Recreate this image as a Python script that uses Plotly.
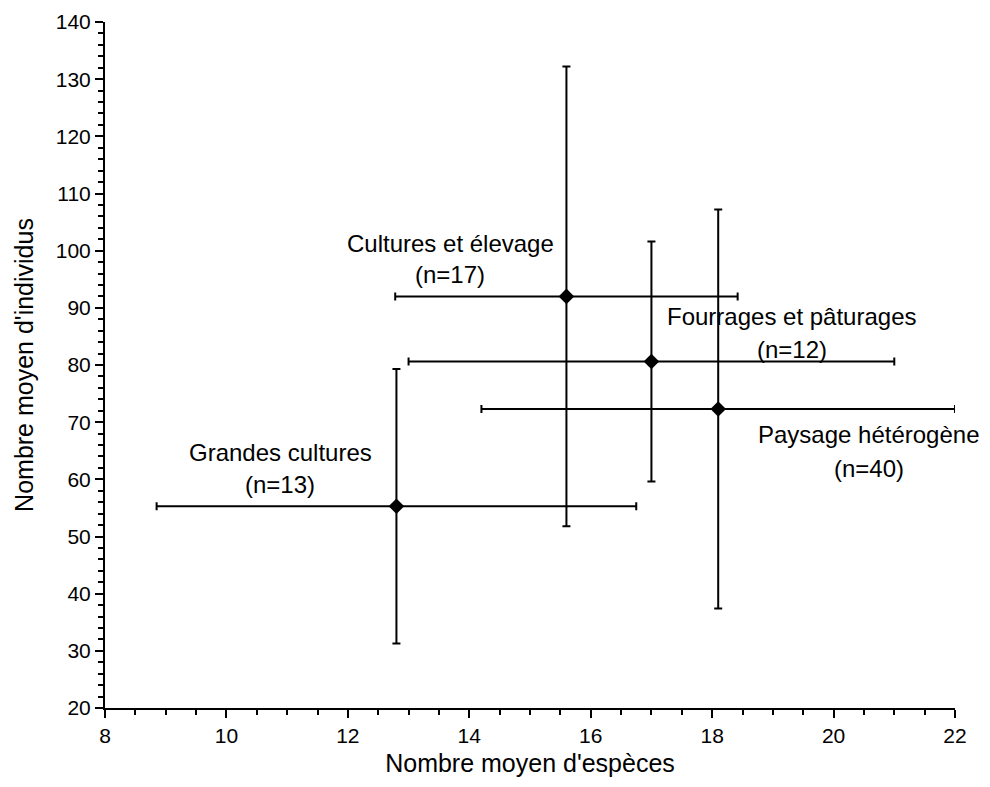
import plotly.graph_objects as go

# Data
groups = ["Grandes cultures", "Cultures et élevage", "Fourrages et pâturages", "Paysage hétérogène"]
n_labels = ["(n=13)", "(n=17)", "(n=12)", "(n=40)"]
mean_species = [12.8, 15.6, 17.0, 18.1]
mean_individuals = [55.3, 92.0, 80.6, 72.3]
err_species = [3.95, 2.82, 4.0, 3.9]
err_individuals = [24.0, 40.2, 21.0, 34.9]

# label anchor positions (data coordinates)
label_x = [10.89, 13.69, 19.31, 20.58]
label_y = [64.7, 101.3, 88.4, 67.8]
nlabel_y = [59.1, 95.8, 82.7, 61.9]

x_ticks = [8, 10, 12, 14, 16, 18, 20, 22]
y_ticks = [20, 30, 40, 50, 60, 70, 80, 90, 100, 110, 120, 130, 140]

FONT = "Liberation Sans, Arial, Helvetica, sans-serif"

fig = go.Figure()
fig.add_trace(go.Scatter(
    x=mean_species, y=mean_individuals, mode="markers",
    marker=dict(symbol="diamond", size=12, color="black"),
    error_x=dict(type="data", array=err_species, color="black", thickness=2, width=4),
    error_y=dict(type="data", array=err_individuals, color="black", thickness=2, width=4),
    showlegend=False, hoverinfo="skip",
))

for g, nl, lx, ly, nly in zip(groups, n_labels, label_x, label_y, nlabel_y):
    fig.add_annotation(x=lx, y=ly, text=g, showarrow=False,
                       font=dict(family=FONT, size=24, color="black"))
    fig.add_annotation(x=lx, y=nly, text=nl, showarrow=False,
                       font=dict(family=FONT, size=24, color="black"))

axis_common = dict(
    showline=True, linecolor="black", linewidth=2, mirror=False,
    showgrid=False, zeroline=False, automargin=False,
    ticks="outside", ticklen=8, tickwidth=2, tickcolor="black",
    tickfont=dict(family=FONT, size=21, color="black"),
    ticklabeloverflow="allow",
)

fig.update_xaxes(range=[8, 22], tickvals=x_ticks,
                 minor=dict(dtick=0.5, ticks="outside", ticklen=5, tickwidth=1.5, tickcolor="black"),
                 title=dict(text="Nombre moyen d'espèces", font=dict(family=FONT, size=25, color="black"), standoff=8),
                 **axis_common)
fig.update_yaxes(range=[20, 140], tickvals=y_ticks,
                 minor=dict(dtick=2, ticks="outside", ticklen=5, tickwidth=1.5, tickcolor="black"),
                 title=dict(text="Nombre moyen d'individus", font=dict(family=FONT, size=25, color="black"), standoff=15),
                 **axis_common)

# page body adds an 8px offset; size the figure so the plot area lands where the reference has it
fig.update_layout(
    width=982, height=771, autosize=False,
    margin=dict(l=97, r=35, t=14, b=71, pad=0),
    paper_bgcolor="white", plot_bgcolor="white",
    font=dict(family=FONT, color="black"),
)

fig.write_html("out.html")
